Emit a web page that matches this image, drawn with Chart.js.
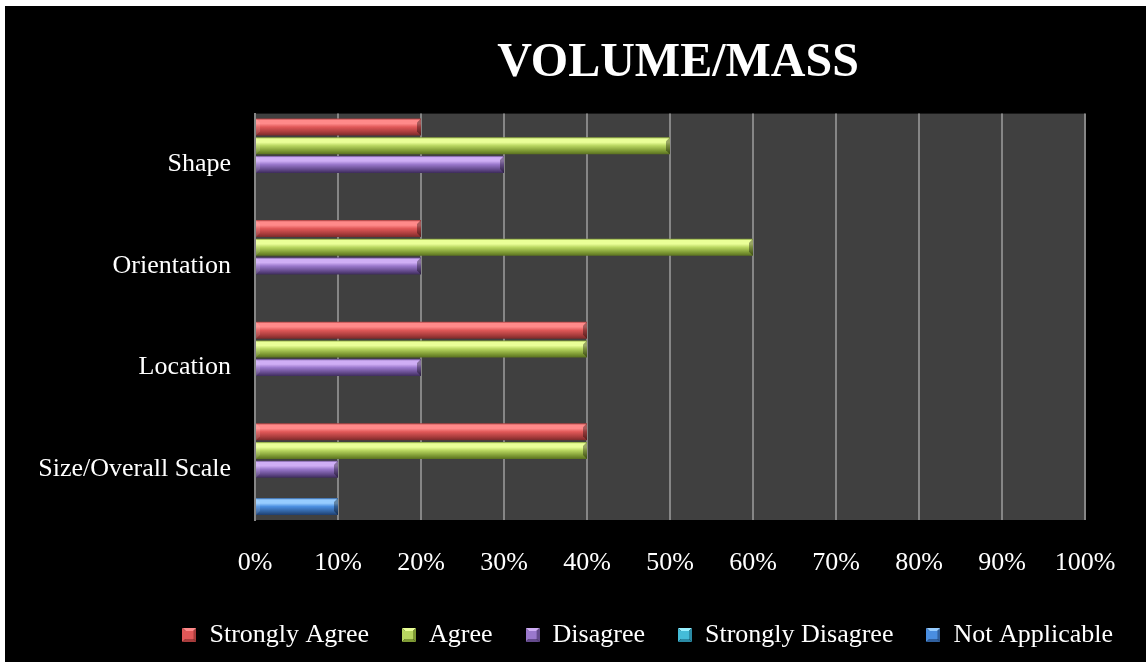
<!DOCTYPE html>
<html>
<head>
<meta charset="utf-8">
<script src="https://cdn.jsdelivr.net/npm/chart.js@4"></script>
<style>
  html, body { margin: 0; padding: 0; background: #ffffff; width: 1146px; height: 662px; overflow: hidden; }
  #c { position: absolute; left: 5px; top: 6px; background: #000000; }
</style>
</head>
<body>
<canvas id="c" width="1141" height="656"></canvas>
<script>
const categories = ['Shape', 'Orientation', 'Location', 'Size/Overall Scale'];
const seriesNames = ['Strongly Agree', 'Agree', 'Disagree', 'Strongly Disagree', 'Not Applicable'];
const stronglyAgree = [20, 20, 40, 40];
const agree = [50, 60, 40, 40];
const disagree = [30, 20, 20, 10];
const stronglyDisagree = [0, 0, 0, 0];
const notApplicable = [0, 0, 0, 10];
const tickValues = [0, 10, 20, 30, 40, 50, 60, 70, 80, 90, 100];
const tickLabels = ['0%', '10%', '20%', '30%', '40%', '50%', '60%', '70%', '80%', '90%', '100%'];
const titleText = 'VOLUME/MASS';

const palettes = [
  { edge: '#7a2a2a', light: '#ff8a8a', mid: '#e05858', dark: '#a83c3c' },
  { edge: '#5a7020', light: '#eaff98', mid: '#b8d660', dark: '#7e9a34' },
  { edge: '#3e2c5c', light: '#cfaef5', mid: '#9a78cc', dark: '#644a8c' },
  { edge: '#1e6a80', light: '#98f0ff', mid: '#44bcd8', dark: '#2a8aa4' },
  { edge: '#1e3e6e', light: '#96ccff', mid: '#4a8ee0', dark: '#30609e' }
];
const seriesData = [stronglyAgree, agree, disagree, stronglyDisagree, notApplicable];

function legendImage(p) {
  const c = document.createElement('canvas');
  c.width = 14; c.height = 14;
  const x = c.getContext('2d');
  const tri = (pts, col) => { x.beginPath(); x.moveTo(pts[0][0], pts[0][1]); x.lineTo(pts[1][0], pts[1][1]); x.lineTo(pts[2][0], pts[2][1]); x.closePath(); x.fillStyle = col; x.fill(); };
  tri([[0,0],[14,0],[7,7]], p.light);
  tri([[0,0],[0,14],[7,7]], p.mid);
  tri([[14,0],[14,14],[7,7]], p.dark);
  tri([[0,14],[14,14],[7,7]], p.dark);
  x.fillStyle = p.mid; x.fillRect(3, 3, 8, 8);
  return c;
}
const legendImgs = palettes.map(legendImage);

const plotBg = {
  id: 'plotBg',
  afterLayout(chart) {
    if (chart.titleBlock) { chart.titleBlock.left += 8; chart.titleBlock.right += 8; }
  },
  beforeDraw(chart) {
    const a = chart.chartArea, ctx = chart.ctx;
    ctx.save(); ctx.fillStyle = '#404040'; ctx.fillRect(a.left, a.top, a.right - a.left, a.bottom - a.top); ctx.restore();
  }
};

const bevel = {
  id: 'bevel',
  beforeDatasetsDraw(chart) {
    const ctx = chart.ctx;
    chart.data.datasets.forEach((ds, i) => {
      const p = palettes[i];
      chart.getDatasetMeta(i).data.forEach(el => {
        const top = el.y - el.height / 2, bot = el.y + el.height / 2;
        const g = ctx.createLinearGradient(0, top, 0, bot);
        g.addColorStop(0, p.dark);
        g.addColorStop(0.1, p.light);
        g.addColorStop(0.3, p.light);
        g.addColorStop(0.5, p.mid);
        g.addColorStop(0.8, p.dark);
        g.addColorStop(1, p.edge);
        el.options.backgroundColor = g;
      });
    });
  },
  afterDatasetsDraw(chart) {
    const ctx = chart.ctx;
    ctx.save();
    chart.data.datasets.forEach((ds, i) => {
      chart.getDatasetMeta(i).data.forEach(el => {
        const w = el.x - el.base;
        if (w < 2) return;
        const top = el.y - el.height / 2, bot = el.y + el.height / 2;
        const r = el.x, l = el.base;
        ctx.fillStyle = 'rgba(0,0,0,0.35)';
        ctx.beginPath(); ctx.moveTo(r, top); ctx.lineTo(r, bot); ctx.lineTo(r - 4, bot - 4); ctx.lineTo(r - 4, top + 4); ctx.closePath(); ctx.fill();
        ctx.fillStyle = 'rgba(255,255,255,0.12)';
        ctx.beginPath(); ctx.moveTo(l, top); ctx.lineTo(l + 4, top + 4); ctx.lineTo(l + 4, bot - 4); ctx.lineTo(l, bot); ctx.closePath(); ctx.fill();
      });
    });
    ctx.restore();
  }
};

Chart.defaults.font.family = "'Liberation Serif', 'Times New Roman', serif";
Chart.defaults.color = '#ffffff';

new Chart(document.getElementById('c'), {
  type: 'bar',
  data: {
    labels: categories,
    datasets: seriesNames.map((name, i) => ({
      label: name,
      data: seriesData[i],
      backgroundColor: () => palettes[i].mid,
      borderWidth: 0,
      categoryPercentage: 0.92,
      barPercentage: 0.91
    }))
  },
  options: {
    indexAxis: 'y',
    responsive: false,
    animation: false,
    layout: { padding: { top: 0, bottom: 4, left: 0, right: 0 } },
    scales: {
      x: {
        min: 0, max: 100,
        afterBuildTicks: s => { s.ticks = tickValues.map(v => ({ value: v })); },
        afterFit: s => { s.height = 69; s.paddingRight = 61; },
        ticks: {
          color: '#ffffff',
          font: { size: 26 },
          padding: 28,
          maxRotation: 0,
          autoSkip: false,
          callback: (v, idx) => tickLabels[tickValues.indexOf(v)]
        },
        grid: { color: '#868686', lineWidth: 2, drawTicks: false },
        border: { display: false }
      },
      y: {
        afterFit: s => { s.width = 250; },
        ticks: { color: '#ffffff', font: { size: 26 }, padding: 24 },
        grid: { display: false, drawTicks: false },
        border: { display: true, color: '#868686', width: 2 }
      }
    },
    plugins: {
      title: {
        display: true,
        text: titleText,
        fullSize: false,
        color: '#ffffff',
        font: { size: 48, weight: 'bold' },
        padding: { top: 29, bottom: 21 }
      },
      legend: {
        position: 'bottom',
        align: 'end',
        labels: {
          color: '#ffffff',
          font: { size: 26 },
          usePointStyle: true,
          boxWidth: 14,
          boxHeight: 14,
          padding: 33,
          generateLabels: chart => chart.data.datasets.map((ds, i) => ({
            text: ds.label, fillStyle: palettes[i].mid, strokeStyle: palettes[i].mid,
            lineWidth: 0, pointStyle: legendImgs[i], fontColor: '#ffffff', hidden: false, datasetIndex: i
          }))
        }
      },
      tooltip: { enabled: false }
    }
  },
  plugins: [plotBg, bevel]
});
</script>
</body>
</html>
